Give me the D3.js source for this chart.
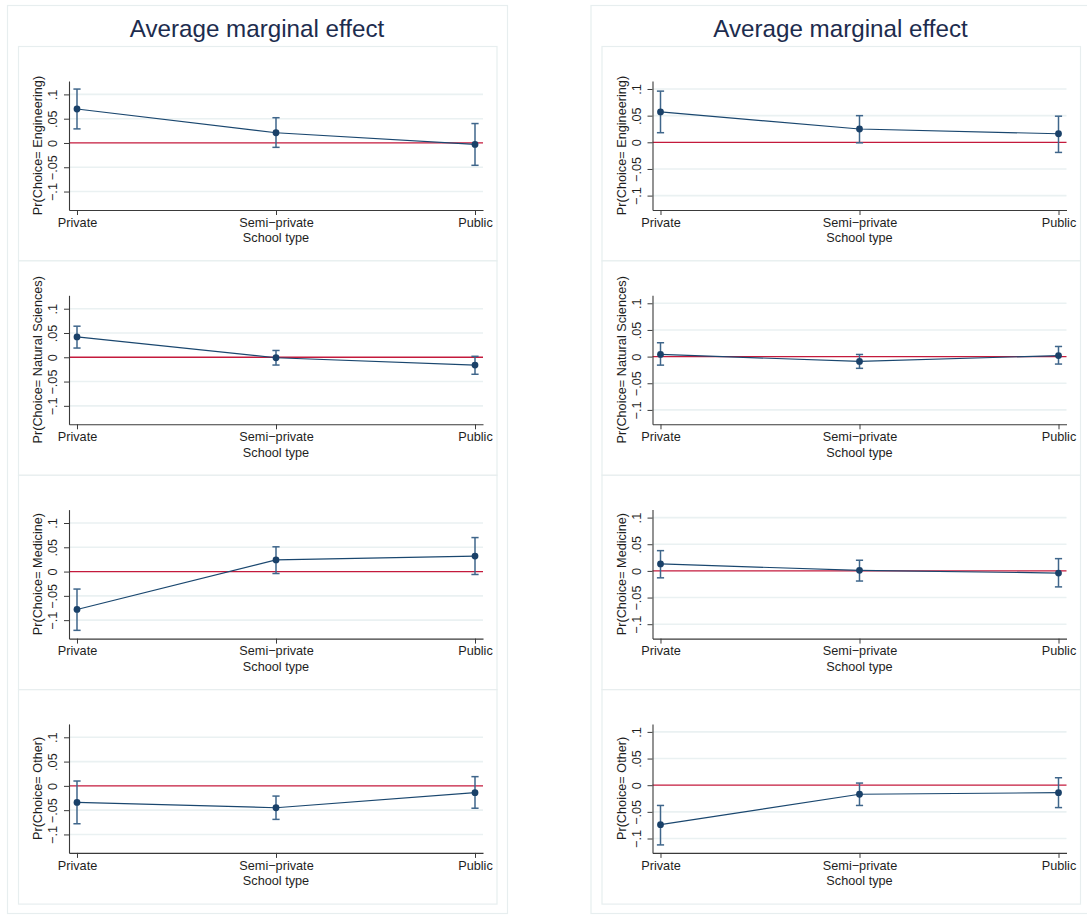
<!DOCTYPE html>
<html>
<head>
<meta charset="utf-8">
<script src="https://cdn.jsdelivr.net/npm/d3@7"></script>
<style>
  html, body { margin: 0; padding: 0; background: #ffffff; }
  svg { display: block; }
  text { font-family: "Liberation Sans", Arial, Helvetica, sans-serif; }
</style>
</head>
<body>
<svg id="chart" width="1087" height="916"></svg>
<script>
// ---------------- DATA ----------------
const categories = ["Private", "Semi\u2212private", "Public"];
const outcomeLabels = ["Pr(Choice= Engineering)", "Pr(Choice= Natural Sciences)", "Pr(Choice= Medicine)", "Pr(Choice= Other)"];
const yTickValues = [-0.1, -0.05, 0, 0.05, 0.1];
const yTickLabels = ["\u2212.1", "\u2212.05", "0", ".05", ".1"];
const chartTitle = "Average marginal effect";
const xAxisTitle = "School type";

// Left column: estimates, lower and upper CI bounds (rows = outcomes, cols = categories)
const leftEst = [[0.070, 0.021, -0.003], [0.042, -0.001, -0.016], [-0.078, 0.024, 0.032], [-0.034, -0.045, -0.014]];
const leftLo  = [[0.029, -0.009, -0.046], [0.019, -0.016, -0.035], [-0.121, -0.004, -0.006], [-0.078, -0.069, -0.046]];
const leftHi  = [[0.111, 0.052, 0.040], [0.064, 0.014, 0.002], [-0.036, 0.051, 0.070], [0.010, -0.021, 0.019]];

// Right column
const rightEst = [[0.057, 0.025, 0.016], [0.004, -0.009, 0.002], [0.013, 0.001, -0.004], [-0.074, -0.017, -0.014]];
const rightLo  = [[0.018, -0.001, -0.019], [-0.016, -0.022, -0.014], [-0.013, -0.019, -0.030], [-0.112, -0.038, -0.042]];
const rightHi  = [[0.096, 0.050, 0.049], [0.026, 0.004, 0.019], [0.038, 0.020, 0.023], [-0.038, 0.004, 0.014]];

// y-axis extents of each column
const leftDomain = [-0.138, 0.1276];
const rightDomain = [-0.127, 0.115];

// ---------------- STYLE / LAYOUT ----------------
const C = {
  border: "#e7eeef",
  grid: "#eaf1f2",
  axis: "#3a3a3a",
  text: "#1e1e1e",
  title: "#1d2c4e",
  zero: "#c41a3c",
  line: "#1a476f",
  ci: "#3f668b",
  marker: "#1a4169"
};

const svg = d3.select("#chart");

const columns = [
  { dx: 0, est: leftEst, lo: leftLo, hi: leftHi, domain: leftDomain },
  { dx: 583.5, est: rightEst, lo: rightLo, hi: rightHi, domain: rightDomain }
];

const rowStep = 214.3;

columns.forEach(col => {
  const g = svg.append("g").attr("transform", `translate(${col.dx},0)`);

  // outer border of column graph
  g.append("rect")
    .attr("x", 7.5).attr("y", 5.5).attr("width", 500).attr("height", 908)
    .attr("fill", "#ffffff").attr("stroke", C.border).attr("stroke-width", 1.2);

  // column title
  g.append("text")
    .attr("x", 257).attr("y", 36.7)
    .attr("text-anchor", "middle")
    .attr("font-size", "24.2px")
    .attr("fill", C.title)
    .text(chartTitle);

  outcomeLabels.forEach((lab, i) => {
    const off = i * rowStep;
    const top = 81 + off, bottom = 210 + off;
    const pg = g.append("g");

    // subgraph border
    pg.append("rect")
      .attr("x", 18.5).attr("y", 46.5 + i * 214.4).attr("width", 478.5).attr("height", 214.4)
      .attr("fill", "#ffffff").attr("stroke", C.border).attr("stroke-width", 1.2);

    const x = d3.scalePoint().domain(categories).range([69, 483]).padding(0.0402);
    const y = d3.scaleLinear().domain(col.domain).range([bottom, top]);

    // grid lines
    pg.append("g").selectAll("line")
      .data(yTickValues.filter(v => v !== 0))
      .join("line")
      .attr("x1", 69).attr("x2", 483)
      .attr("y1", d => y(d)).attr("y2", d => y(d))
      .attr("stroke", C.grid).attr("stroke-width", 1.6);

    // zero reference line
    pg.append("line")
      .attr("x1", 69).attr("x2", 483)
      .attr("y1", y(0)).attr("y2", y(0))
      .attr("stroke", C.zero).attr("stroke-width", 1.3);

    // y axis
    const yAxis = pg.append("g")
      .attr("transform", "translate(69,0)")
      .call(d3.axisLeft(y).tickValues(yTickValues)
        .tickFormat((d, k) => yTickLabels[k]).tickSize(5).tickSizeOuter(0));
    yAxis.select(".domain").attr("stroke", C.axis).attr("stroke-width", 1.1);
    yAxis.selectAll(".tick line").attr("stroke", C.axis).attr("stroke-width", 1);
    yAxis.selectAll(".tick text")
      .attr("transform", "rotate(-90)")
      .attr("x", 0).attr("y", -12).attr("dy", 0)
      .attr("text-anchor", "middle")
      .attr("font-size", "12.7px")
      .attr("font-family", "Liberation Sans, Arial, sans-serif")
      .attr("fill", C.text);

    // x axis
    const xAxis = pg.append("g")
      .attr("transform", `translate(0,${bottom})`)
      .call(d3.axisBottom(x).tickSize(5).tickSizeOuter(0));
    xAxis.select(".domain").attr("stroke", C.axis).attr("stroke-width", 1.1);
    xAxis.selectAll(".tick line").attr("stroke", C.axis).attr("stroke-width", 1);
    xAxis.selectAll(".tick text")
      .attr("y", 16.7).attr("dy", 0)
      .attr("font-size", "12.7px")
      .attr("font-family", "Liberation Sans, Arial, sans-serif")
      .attr("fill", C.text);

    // axis titles
    pg.append("text")
      .attr("x", (69 + 483) / 2).attr("y", bottom + 32.3)
      .attr("text-anchor", "middle")
      .attr("font-size", "12.7px")
      .attr("fill", C.text)
      .text(xAxisTitle);

    pg.append("text")
      .attr("transform", `translate(42.3,${(top + bottom) / 2}) rotate(-90)`)
      .attr("text-anchor", "middle")
      .attr("font-size", "12.7px")
      .attr("fill", C.text)
      .text(lab);

    // data
    const pts = categories.map((c, k) => ({ c, est: col.est[i][k], lo: col.lo[i][k], hi: col.hi[i][k] }));

    // connecting line
    pg.append("path")
      .datum(pts)
      .attr("fill", "none")
      .attr("stroke", C.line)
      .attr("stroke-width", 1.2)
      .attr("d", d3.line().x(d => x(d.c)).y(d => y(d.est)));

    // CI caps
    const ci = pg.append("g").attr("stroke", C.ci).attr("stroke-width", 1.5).attr("fill", "none");
    ci.selectAll("line.v").data(pts).join("line").attr("class", "v")
      .attr("x1", d => x(d.c)).attr("x2", d => x(d.c))
      .attr("y1", d => y(d.lo)).attr("y2", d => y(d.hi));
    ci.selectAll("line.h1").data(pts).join("line").attr("class", "h1")
      .attr("x1", d => x(d.c) - 3.6).attr("x2", d => x(d.c) + 3.6)
      .attr("y1", d => y(d.hi)).attr("y2", d => y(d.hi));
    ci.selectAll("line.h2").data(pts).join("line").attr("class", "h2")
      .attr("x1", d => x(d.c) - 3.6).attr("x2", d => x(d.c) + 3.6)
      .attr("y1", d => y(d.lo)).attr("y2", d => y(d.lo));

    // markers
    pg.append("g").selectAll("circle").data(pts).join("circle")
      .attr("cx", d => x(d.c)).attr("cy", d => y(d.est))
      .attr("r", 3.4)
      .attr("fill", C.marker);
  });
});
</script>
</body>
</html>
